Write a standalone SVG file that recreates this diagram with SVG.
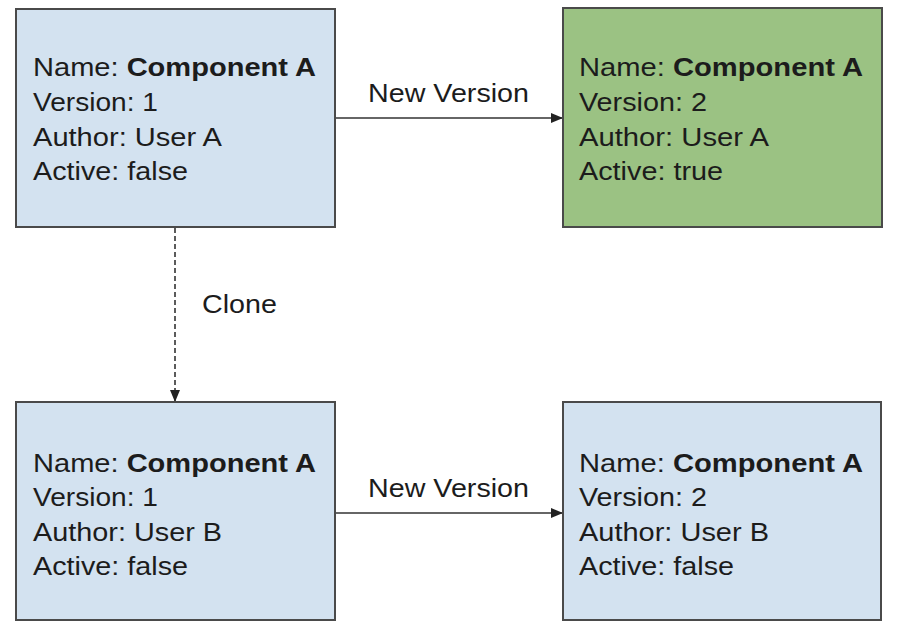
<svg xmlns="http://www.w3.org/2000/svg" width="913" height="627" viewBox="0 0 913 627">
<style>
.box{stroke:#4a4a4a;stroke-width:2}
.blue{fill:#d3e2f0}
.green{fill:#9bc283}
text{font-family:"Liberation Sans",Arial,sans-serif;font-size:26px;fill:#1c1c1c}
.b{font-weight:bold}
.lbl{font-size:26px}
.conn{stroke:#333;stroke-width:1.6;fill:none}
</style>
<defs>
<marker id="arr" viewBox="0 0 12 10" refX="12" refY="5" markerWidth="12" markerHeight="10" markerUnits="userSpaceOnUse" orient="auto">
<path d="M0,0 L12,5 L0,10 Z" fill="#222"/>
</marker>
</defs>
<rect width="913" height="627" fill="#fff"/>
<g id="connectors">
<line class="conn" x1="335" y1="118" x2="563" y2="118" marker-end="url(#arr)"/>
<text class="lbl" x="368" y="102" textLength="161" lengthAdjust="spacingAndGlyphs">New Version</text>
<line class="conn" x1="335" y1="513" x2="563" y2="513" marker-end="url(#arr)"/>
<text class="lbl" x="368" y="497" textLength="161" lengthAdjust="spacingAndGlyphs">New Version</text>
<line class="conn" x1="175" y1="228" x2="175" y2="402" stroke-dasharray="5,3" marker-end="url(#arr)"/>
<text class="lbl" x="202" y="313" textLength="75" lengthAdjust="spacingAndGlyphs">Clone</text>
</g>
<g id="node1">
<rect class="box blue" x="16" y="9" width="319" height="218"/>
<text x="33" y="76" textLength="283" lengthAdjust="spacingAndGlyphs">Name: <tspan class="b">Component A</tspan></text>
<text x="33" y="111" textLength="125" lengthAdjust="spacingAndGlyphs">Version: 1</text>
<text x="33" y="146" textLength="189" lengthAdjust="spacingAndGlyphs">Author: User A</text>
<text x="33" y="180" textLength="155" lengthAdjust="spacingAndGlyphs">Active: false</text>
</g>
<g id="node2">
<rect class="box green" x="563" y="8" width="319" height="219"/>
<text x="579" y="76" textLength="284" lengthAdjust="spacingAndGlyphs">Name: <tspan class="b">Component A</tspan></text>
<text x="579" y="111" textLength="128" lengthAdjust="spacingAndGlyphs">Version: 2</text>
<text x="579" y="146" textLength="190" lengthAdjust="spacingAndGlyphs">Author: User A</text>
<text x="579" y="180" textLength="144" lengthAdjust="spacingAndGlyphs">Active: true</text>
</g>
<g id="node3">
<rect class="box blue" x="16" y="402" width="319" height="218"/>
<text x="33" y="472" textLength="283" lengthAdjust="spacingAndGlyphs">Name: <tspan class="b">Component A</tspan></text>
<text x="33" y="506" textLength="125" lengthAdjust="spacingAndGlyphs">Version: 1</text>
<text x="33" y="541" textLength="189" lengthAdjust="spacingAndGlyphs">Author: User B</text>
<text x="33" y="575" textLength="155" lengthAdjust="spacingAndGlyphs">Active: false</text>
</g>
<g id="node4">
<rect class="box blue" x="563" y="402" width="318" height="218"/>
<text x="579" y="472" textLength="284" lengthAdjust="spacingAndGlyphs">Name: <tspan class="b">Component A</tspan></text>
<text x="579" y="506" textLength="128" lengthAdjust="spacingAndGlyphs">Version: 2</text>
<text x="579" y="541" textLength="190" lengthAdjust="spacingAndGlyphs">Author: User B</text>
<text x="579" y="575" textLength="155" lengthAdjust="spacingAndGlyphs">Active: false</text>
</g>
</svg>
